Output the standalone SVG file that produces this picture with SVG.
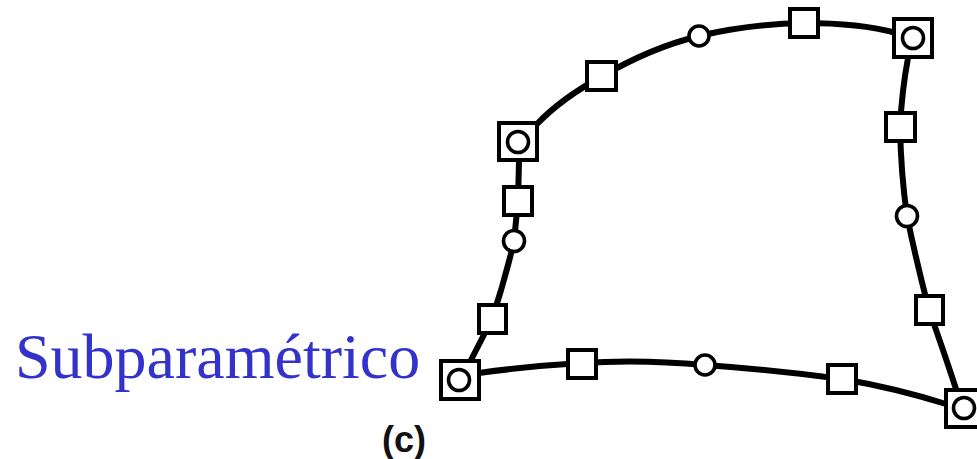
<svg xmlns="http://www.w3.org/2000/svg" width="977" height="459" viewBox="0 0 977 459">
<style>
.e{fill:none;stroke:#000;stroke-width:6;stroke-linecap:round}
.s{fill:#fff;stroke:#000;stroke-width:4}
.d{fill:#fff;stroke:#000;stroke-width:4}
.c{fill:#fff;stroke:#000;stroke-width:3.600}
</style>
<rect width="977" height="459" fill="#fff"/>
<g id="connectors">
<path class="e" d="M537 124Q562 98 601 77Q650 48 699 36Q750 24 804 23Q860 23 896 33"/>
<path class="e" d="M908 58Q902 90 900 127Q901 175 907 216Q916 260 929 310Q945 355 957 392"/>
<path class="e" d="M479 373Q530 366 581 363Q640 359 705 365Q775 370 842 379Q895 388 946 404"/>
<path class="e" d="M519 161L518 201L514 241Q505 280 492 319L471 360"/>
</g>
<g id="n1"><rect class="d" x="499" y="123" width="38" height="37"/><circle class="c" cx="518" cy="142" r="10.500"/></g>
<g id="n2"><rect class="d" x="894" y="19" width="38" height="38"/><circle class="c" cx="913" cy="38" r="10.500"/></g>
<g id="n3"><rect class="d" x="441" y="361" width="38" height="38"/><circle class="c" cx="459" cy="380" r="10.500"/></g>
<g id="n4"><rect class="d" x="946" y="390" width="38" height="37"/><circle class="c" cx="964" cy="408" r="10.500"/></g>
<g id="n5"><rect class="s" x="504" y="187" width="28" height="28"/></g>
<g id="n6"><circle class="c" cx="514" cy="241" r="10.500"/></g>
<g id="n7"><rect class="s" x="479" y="305" width="27" height="28"/></g>
<g id="n8"><rect class="s" x="568" y="350" width="28" height="28"/></g>
<g id="n9"><circle class="c" cx="705" cy="365" r="10"/></g>
<g id="n10"><rect class="s" x="828" y="365" width="28" height="28"/></g>
<g id="n11"><rect class="s" x="916" y="296" width="27" height="28"/></g>
<g id="n12"><circle class="c" cx="907" cy="216" r="10.500"/></g>
<g id="n13"><rect class="s" x="886" y="113" width="29" height="28"/></g>
<g id="n14"><rect class="s" x="790" y="9" width="28" height="28"/></g>
<g id="n15"><circle class="c" cx="699" cy="36" r="10"/></g>
<g id="n16"><rect class="s" x="587" y="62" width="29" height="28"/></g>
<text x="15" y="378" font-family="'Liberation Serif',serif" font-size="64" fill="#3333cc">Subparamétrico</text>
<text x="382" y="452" font-family="'Liberation Sans',sans-serif" font-size="36" font-weight="700" fill="#111">(c)</text>
</svg>
